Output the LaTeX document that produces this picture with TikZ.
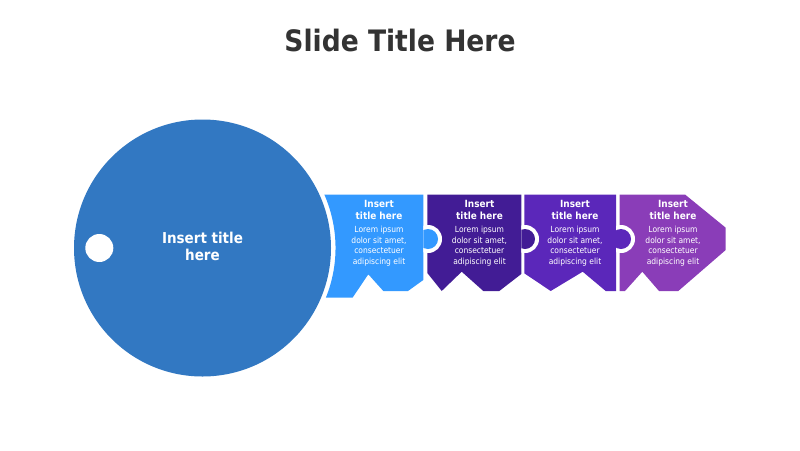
\documentclass[tikz,border=0pt]{standalone}
\usepackage{fontspec}
\setmainfont[FakeStretch=0.9]{DejaVu Sans}
\definecolor{titlegray}{HTML}{333333}
\definecolor{keyblue}{HTML}{3278C2}
\definecolor{skyblue}{HTML}{3399FF}
\definecolor{darkviolet}{HTML}{421C95}
\definecolor{midviolet}{HTML}{5B27BA}
\definecolor{lightviolet}{HTML}{8A3DB8}
\tikzset{
  piecetext/.style={text=white,align=center,font=\fontsize{8.4}{10.5}\selectfont,inner sep=0pt},
  piecehead/.style={text=white,align=center,font=\fontsize{9.9}{12}\selectfont\bfseries,inner sep=0pt},
}
\begin{document}
\begin{tikzpicture}[x=1pt,y=-1pt]
  \useasboundingbox (0,0) rectangle (800,450);

  \node[text=titlegray,font=\fontsize{29.5}{34}\selectfont\bfseries] (title) at (400,41) {Slide Title Here};

  % the round head of the key
  \fill[keyblue] (202.5,248) circle (128.5);
  \fill[white] (99.3,248) circle (14);
  \node[text=white,align=center,font=\fontsize{15}{17}\selectfont\bfseries] (head) at (202.5,246) {Insert title\\here};

  % the four teeth
  \fill[skyblue] (324.3,194.5) arc[start angle=-23.7,end angle=21.9,radius=133] -- (352.7,297.5) -- (368.3,274.3) -- (383.3,291) -- (408,291) -- (423.3,280) -- (423.3,194.5) -- cycle;
  \fill[darkviolet] (427.3,194.5) -- (521.3,194.5) -- (521.3,274) -- (499.3,291) -- (483.3,291) -- (461.7,271.7) -- (441.7,291) -- (427.3,273) -- cycle;
  \fill[midviolet] (524.3,194.5) -- (616,194.5) -- (616,291) -- (605.7,291) -- (582.7,271.7) -- (550.7,291) -- (524.3,273.3) -- cycle;
  \fill[lightviolet] (619.7,194.5) -- (685,194.5) -- (725.7,227.7) -- (725.7,250) -- (678.3,291) -- (659,291) -- (642.3,271.7) -- (625,291) -- (619.7,291) -- cycle;

  % sockets with their tabs
  \begin{scope}
    \clip (423.3,220) rectangle (450,260);
    \fill[white] (428,239) circle (14);
    \fill[skyblue] (428,239) circle (10);
  \end{scope}
  \begin{scope}
    \clip (521.3,220) rectangle (550,260);
    \fill[white] (525,239) circle (14);
    \fill[darkviolet] (525,239) circle (10);
  \end{scope}
  \begin{scope}
    \clip (616,220) rectangle (645,260);
    \fill[white] (621,239) circle (14);
    \fill[midviolet] (621,239) circle (10);
  \end{scope}

  \foreach \nm/\px in {a/379,b/479.5,c/575,d/673}{
    \node[piecehead] (head\nm) at (\px,209.5) {Insert\\title here};
    \node[piecetext] (text\nm) at (\px,246) {Lorem ipsum\\dolor sit amet,\\consectetuer\\adipiscing elit};
  }
\end{tikzpicture}
\end{document}
